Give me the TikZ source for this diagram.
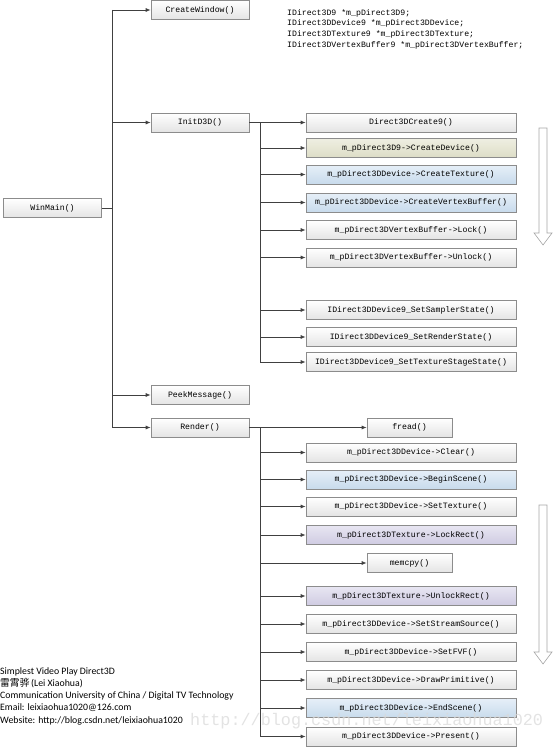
\documentclass[tikz,border=0pt]{standalone}
\usepackage{fontspec}
\setmonofont{Liberation Mono}
\newfontfamily\carlito{Carlito}
\newfontfamily\cjk{Noto Sans CJK SC}
\newfontfamily\wmfont{Liberation Mono}
\usetikzlibrary{arrows.meta}
\definecolor{ln}{HTML}{404040}
\definecolor{bord}{HTML}{8C8C8C}
\definecolor{gbot}{HTML}{E4E4E4}
\definecolor{otop}{HTML}{EFEFE2}
\definecolor{obot}{HTML}{DCDCC6}
\definecolor{btop}{HTML}{E6EFF8}
\definecolor{bbot}{HTML}{C8DBEC}
\definecolor{ltop}{HTML}{E8E6F2}
\definecolor{lbot}{HTML}{CFCBE2}
\tikzset{
  box/.style={draw=bord, line width=0.6bp, top color=white, bottom color=gbot,
    minimum height=19bp, inner sep=0pt, font=\ttfamily\fontsize{8.2bp}{10bp}\selectfont},
  lbox/.style={box, minimum width=98bp},
  cbox/.style={box, minimum width=210bp},
  sbox/.style={box, minimum width=85bp},
  fillolive/.style={top color=otop, bottom color=obot},
  fillblue/.style={top color=btop, bottom color=bbot},
  filllav/.style={top color=ltop, bottom color=lbot},
  plain/.style={draw=ln, line width=0.8bp},
  conn/.style={plain, -{Latex[length=5bp,width=4bp]}},
  downarrow/.style={draw=gray!70, fill=white, line width=0.6bp}
}
\begin{document}
\begin{tikzpicture}[x=1bp,y=-1bp]
\useasboundingbox (0,0) rectangle (554,748);
% main column
\node[lbox] (winmain) at (52.5,208) {WinMain()};
\node[lbox] (createwin) at (200,10) {CreateWindow()};
\node[lbox] (initd3d) at (200,122.5) {InitD3D()};
\node[lbox] (peek) at (200,395) {PeekMessage()};
\node[lbox] (render) at (200,427.5) {Render()};
\coordinate (t1) at (112,10);
\coordinate (t2) at (112,427.5);
\coordinate (tw) at (112,208);
\draw[plain] (winmain.east) -- (tw);
\draw[plain] (t1) -- (t2);
\foreach \n in {createwin,initd3d,peek,render}
  \draw[conn] (\n.west -| t1) -- (\n.west);
% declarations
\node[anchor=north west, inner sep=0pt, align=left,
  font=\ttfamily\fontsize{8.2bp}{10.7bp}\selectfont] (decl) at (287,9)
  {IDirect3D9 *m\_pDirect3D9;\\
   IDirect3DDevice9 *m\_pDirect3DDevice;\\
   IDirect3DTexture9 *m\_pDirect3DTexture;\\
   IDirect3DVertexBuffer9 *m\_pDirect3DVertexBuffer;};
% InitD3D children
\node[cbox] (i1) at (411,122.5) {Direct3DCreate9()};
\node[cbox, fillolive] (i2) at (411,148) {m\_pDirect3D9->CreateDevice()};
\node[cbox, fillblue] (i3) at (411,174.5) {m\_pDirect3DDevice->CreateTexture()};
\node[cbox, fillblue] (i4) at (411,202.5) {m\_pDirect3DDevice->CreateVertexBuffer()};
\node[cbox] (i5) at (411,230) {m\_pDirect3DVertexBuffer->Lock()};
\node[cbox] (i6) at (411,257.5) {m\_pDirect3DVertexBuffer->Unlock()};
\node[cbox] (i7) at (411,310) {IDirect3DDevice9\_SetSamplerState()};
\node[cbox] (i8) at (411,337) {IDirect3DDevice9\_SetRenderState()};
\node[cbox] (i9) at (411,362) {IDirect3DDevice9\_SetTextureStageState()};
\coordinate (ib) at (260,122.5);
\coordinate (ie) at (260,362);
\draw[plain] (initd3d.east) -- (ib) -- (ie);
\foreach \n in {i1,i2,i3,i4,i5,i6,i7,i8,i9}
  \draw[conn] (\n.west -| ib) -- (\n.west);
% Render children
\node[sbox] (r1) at (409.5,427.5) {fread()};
\node[cbox] (r2) at (411,452.5) {m\_pDirect3DDevice->Clear()};
\node[cbox, fillblue] (r3) at (411,479.5) {m\_pDirect3DDevice->BeginScene()};
\node[cbox] (r4) at (411,506.5) {m\_pDirect3DDevice->SetTexture()};
\node[cbox, filllav] (r5) at (411,535) {m\_pDirect3DTexture->LockRect()};
\node[sbox] (r6) at (409.5,563) {memcpy()};
\node[cbox, filllav] (r7) at (411,596) {m\_pDirect3DTexture->UnlockRect()};
\node[cbox] (r8) at (411,624) {m\_pDirect3DDevice->SetStreamSource()};
\node[cbox] (r9) at (411,652) {m\_pDirect3DDevice->SetFVF()};
\node[cbox] (r10) at (411,680) {m\_pDirect3DDevice->DrawPrimitive()};
\node[cbox, fillblue] (r11) at (411,708) {m\_pDirect3DDevice->EndScene()};
\node[cbox] (r12) at (411,736.5) {m\_pDirect3DDevice->Present()};
\coordinate (rb) at (260,427.5);
\coordinate (re) at (260,736.5);
\draw[plain] (render.east) -- (rb) -- (re);
\foreach \n in {r1,r2,r3,r4,r5,r6,r7,r8,r9,r10,r11,r12}
  \draw[conn] (\n.west -| rb) -- (\n.west);
% hollow down arrows
\draw[downarrow] (539,128) -- (547,128) -- (547,233) -- (552,233) -- (543,245)
  -- (534,233) -- (539,233) -- cycle;
\draw[downarrow] (539,505) -- (547,505) -- (547,652) -- (552,652) -- (543,664)
  -- (534,652) -- (539,652) -- cycle;
% credits
\node[anchor=north west, inner sep=0pt, align=left,
  font=\carlito\fontsize{9.8bp}{12.3bp}\selectfont] (credit) at (0,667)
  {Simplest Video Play Direct3D\\
   {\cjk 雷霄骅}\,(Lei Xiaohua)\\
   Communication University of China / Digital TV Technology\\
   Email: leixiaohua1020@126.com\\
   Website: http://blog.csdn.net/leixiaohua1020};
% watermark
\node[anchor=west, inner sep=0pt, text=gray!30, text opacity=0.75,
  font=\wmfont\fontsize{16.8bp}{17bp}\selectfont] (wm) at (190,721)
  {http://blog.csdn.net/leixiaohua1020};
\end{tikzpicture}
\end{document}
